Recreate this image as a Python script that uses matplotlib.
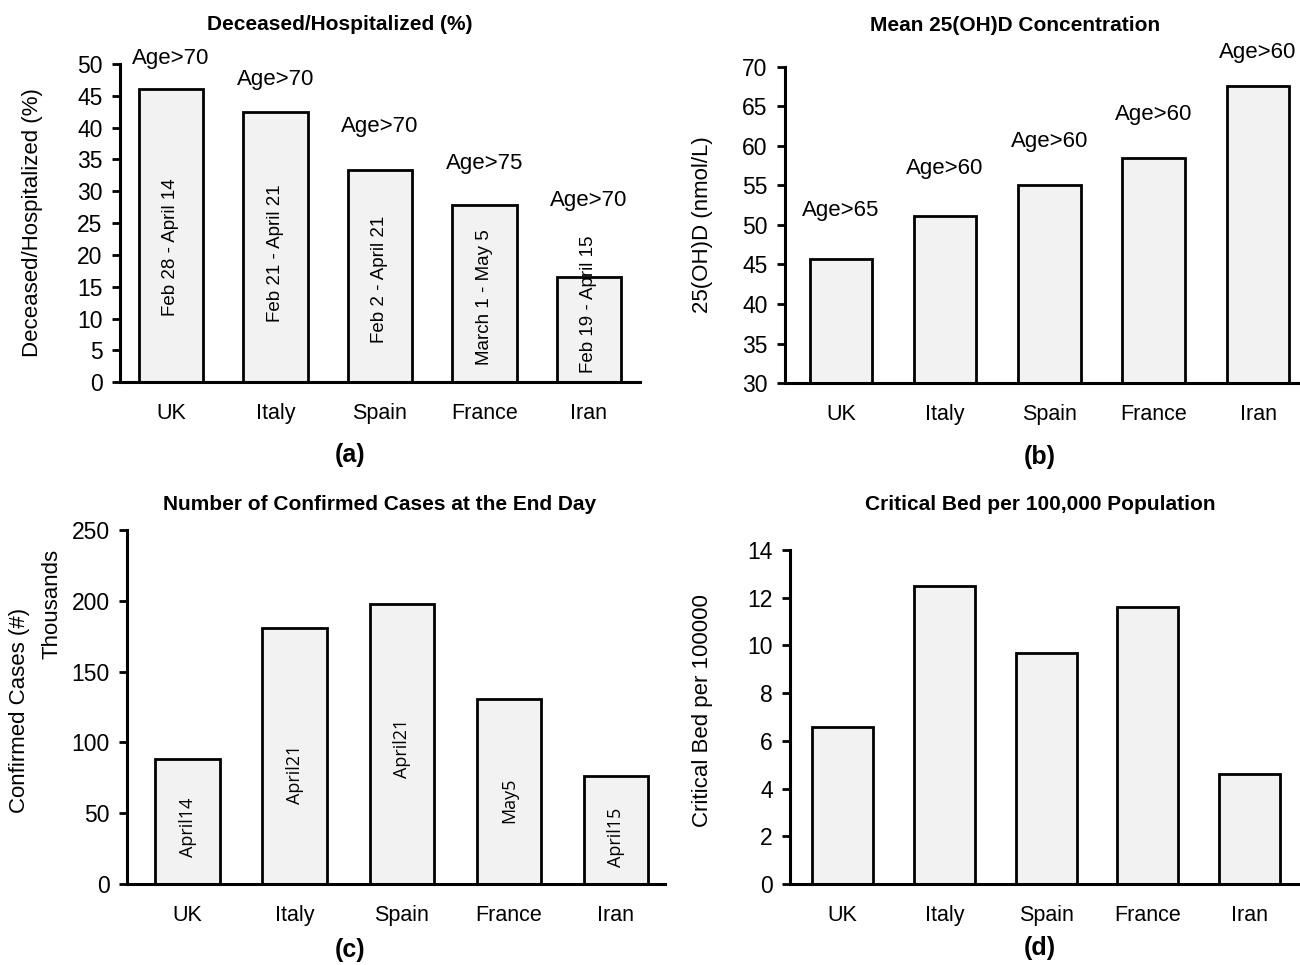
import matplotlib
matplotlib.use("Agg")
import matplotlib.pyplot as plt

countries = ["UK", "Italy", "Spain", "France", "Iran"]

deceased_pct = [46.0, 42.5, 33.3, 27.8, 16.5]
deceased_age = ["Age>70", "Age>70", "Age>70", "Age>75", "Age>70"]
deceased_period = ["Feb 28 - April 14", "Feb 21 - April 21", "Feb 2 - April 21",
                   "March 1 - May 5", "Feb 19 - April 15"]

vitd_mean = [45.7, 51.2, 55.0, 58.5, 67.6]
vitd_age = ["Age>65", "Age>60", "Age>60", "Age>60", "Age>60"]

cases_thousands = [88, 181, 198, 131, 76]
cases_end_day = ["April14", "April21", "April21", "May5", "April15"]

critical_beds = [6.6, 12.5, 9.7, 11.6, 4.6]

MAIN = ["Liberation Sans", "DejaVu Sans"]
INNER_C = ["Open Sans", "DejaVu Sans"]
plt.rcParams["font.family"] = MAIN

FILL = "#f2f2f2"
EDGE = "black"
TICK_FS = 16.5
XT_FS = 15.5
LAB_FS = 16

fig = plt.figure(figsize=(13, 9.65), dpi=100)

def style(ax, xlim, ylim, yticks):
    ax.set_xlim(*xlim)
    ax.set_ylim(*ylim)
    ax.set_yticks(yticks)
    ax.set_xticks(range(len(countries)))
    ax.set_xticklabels(countries)
    for s in ["top", "right"]:
        ax.spines[s].set_visible(False)
    for s in ["left", "bottom"]:
        ax.spines[s].set_linewidth(2.2)
    ax.tick_params(axis="x", length=0, pad=15, labelsize=XT_FS)
    ax.tick_params(axis="y", length=5.5, width=2.0, pad=7, labelsize=TICK_FS, direction="out")
    ax.patch.set_alpha(0)

# (a)
ax = fig.add_axes([0.0923, 0.604, 0.40, 0.3297])
ax.bar(range(5), deceased_pct, width=0.62, color=FILL, edgecolor=EDGE, linewidth=2, zorder=2)
style(ax, (-0.488, 4.488), (0, 50), range(0, 51, 5))
ax.set_ylabel("Deceased/Hospitalized (%)", fontsize=LAB_FS)
ax.yaxis.set_label_coords(-0.148, 0.5)
age_y_a = [50.8, 47.6, 40.1, 34.3, 28.5]
period_y_a = [21.2, 20.2, 16.2, 13.4, 12.3]
for i in range(5):
    ax.text(i, age_y_a[i], deceased_age[i], ha="center", va="center", fontsize=16, clip_on=False)
    ax.text(i, period_y_a[i], deceased_period[i], ha="center", va="center", rotation=90,
            fontsize=13.5, zorder=3)

# (b)
ax = fig.add_axes([0.6038, 0.6031, 0.396, 0.3275])
ax.bar(range(5), vitd_mean, width=0.6, bottom=0, color=FILL, edgecolor=EDGE, linewidth=2, zorder=2)
style(ax, (-0.536, 4.40), (30, 70), range(30, 71, 5))
ax.set_ylabel("25(OH)D (nmol/L)", fontsize=LAB_FS)
ax.yaxis.set_label_coords(-0.14, 0.5)
age_y_b = [51.8, 57.1, 60.6, 64.0, 71.8]
for i in range(5):
    ax.text(i, age_y_b[i], vitd_age[i], ha="center", va="center", fontsize=16, clip_on=False)

# (c)
ax = fig.add_axes([0.0977, 0.0839, 0.414, 0.3668])
ax.bar(range(5), cases_thousands, width=0.6, color=FILL, edgecolor=EDGE, linewidth=2, zorder=2)
style(ax, (-0.565, 4.46), (0, 250), range(0, 251, 50))
ax.set_ylabel("Confirmed Cases (#)", fontsize=LAB_FS)
ax.yaxis.set_label_coords(-0.18, 0.49)
ax.text(-0.14, 0.79, "Thousands", transform=ax.transAxes, rotation=90,
        ha="center", va="center", fontsize=LAB_FS)
end_y_c = [40.3, 77.7, 96.0, 58.8, 32.7]
for i in range(5):
    ax.text(i, end_y_c[i], cases_end_day[i], ha="center", va="center", rotation=90,
            fontsize=13, family=INNER_C, zorder=3)

# (d)
ax = fig.add_axes([0.6077, 0.0839, 0.392, 0.3461])
ax.bar(range(5), critical_beds, width=0.6, color=FILL, edgecolor=EDGE, linewidth=2, zorder=2)
style(ax, (-0.515, 4.49), (0, 14), range(0, 15, 2))
ax.set_ylabel("Critical Bed per 100000", fontsize=LAB_FS)
ax.yaxis.set_label_coords(-0.152, 0.52)

# titles and panel labels
titles = [("Deceased/Hospitalized (%)", 0.2615, 0.975),
          ("Mean 25(OH)D Concentration", 0.781, 0.974),
          ("Number of Confirmed Cases at the End Day", 0.292, 0.4767),
          ("Critical Bed per 100,000 Population", 0.80, 0.4767)]
for t, x, y in titles:
    fig.text(x, y, t, ha="center", va="center", fontsize=15, fontweight="bold")

panels = [("(a)", 0.269, 0.5285), ("(b)", 0.80, 0.526), ("(c)", 0.269, 0.0155), ("(d)", 0.80, 0.0176)]
for t, x, y in panels:
    fig.text(x, y, t, ha="center", va="center", fontsize=18, fontweight="bold")

fig.savefig("out.png", dpi=100)
